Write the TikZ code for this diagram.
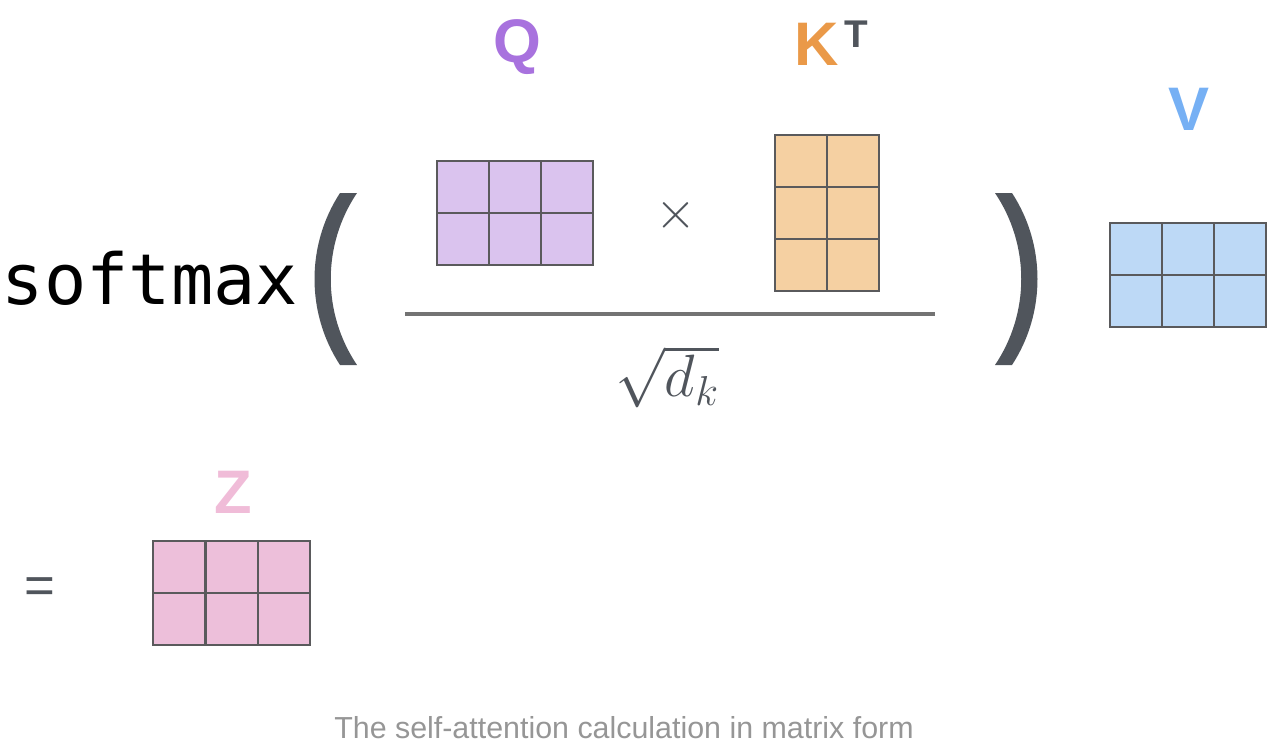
\RequirePackage{fix-cm}
\documentclass[tikz,border=0pt]{standalone}
\usepackage{fontspec}
\setmainfont{Liberation Sans}
\newfontfamily\codefont{DejaVu Sans Mono}
\usetikzlibrary{positioning}
\definecolor{qcolor}{RGB}{168,114,222}
\definecolor{kcolor}{RGB}{234,153,72}
\definecolor{vcolor}{RGB}{118,176,244}
\definecolor{zcolor}{RGB}{240,188,216}
\definecolor{qfill}{RGB}{218,195,238}
\definecolor{kfill}{RGB}{245,208,162}
\definecolor{vfill}{RGB}{189,217,246}
\definecolor{zfill}{RGB}{237,191,218}
\definecolor{gridline}{RGB}{90,90,92}
\definecolor{darkgray}{RGB}{80,85,92}
\definecolor{captiongray}{RGB}{150,150,150}
\tikzset{every node/.style={inner sep=0, outer sep=0},
	cell/.style={draw=gridline, line width=1.1pt, minimum size=1.04cm},
	letter/.style={font=\bfseries\fontsize{35}{42}\selectfont},
	supletter/.style={font=\bfseries\fontsize{22}{26}\selectfont, text=darkgray},
	paren/.style={fill=darkgray},
	fracbar/.style={draw=gray!90!black, line width=2.2pt}}

\begin{document}
\begin{tikzpicture}[x=0.02cm,y=-0.02cm]
		\useasboundingbox (0,0) rectangle (1276,754);
		\node[anchor=base west, font=\codefont\fontsize{40}{48}\selectfont] (smax) at (2,304) {softmax};
		% brackets
		\fill[paren] (340,193) .. controls (306,245) and (306,313) .. (340,365) -- (357,365) .. controls (322,313) and (322,245) .. (357,193) -- cycle;
		\fill[paren] (1012,193) .. controls (1046,245) and (1046,313) .. (1012,365) -- (995,365) .. controls (1030,313) and (1030,245) .. (995,193) -- cycle;
		% Q
		\foreach \c in {0,1,2}
			\foreach \r in {0,1}
				\node[cell, fill=qfill] (q\c\r) at (463+52*\c,187+52*\r) {};
		\node[letter, text=qcolor, anchor=base] (qlab) at (517,62) {Q};
		\node[font=\fontsize{30}{36}\selectfont, text=darkgray] (times) at (676,215) {$\times$};
		% K transposed
		\foreach \c in {0,1}
			\foreach \r in {0,1,2}
				\node[cell, fill=kfill] (k\c\r) at (801+52*\c,161+52*\r) {};
		\node[letter, text=kcolor, anchor=base] (klab) at (817,65) {K};
		\node[supletter, right=3pt of klab.north east, anchor=north west, yshift=1pt] (ksup) {T};
		% fraction
		\coordinate (barl) at (405,314);
		\coordinate (barr) at (935,314);
		\draw[fracbar] (barl) -- (barr);
		\node[font=\fontsize{34}{40}\selectfont, text=darkgray] (sqrtdk) at (667,377) {$\sqrt{d_k}$};
		% V
		\foreach \c in {0,1,2}
			\foreach \r in {0,1}
				\node[cell, fill=vfill] (v\c\r) at (1136+52*\c,249+52*\r) {};
		\node[letter, text=vcolor, anchor=base] (vlab) at (1189,130) {V};
		% Z
		\node[font=\fontsize{30}{36}\selectfont, text=darkgray] (eq) at (40,591) {=};
		\foreach \c in {0,1,2}
			\foreach \r in {0,1}
				\node[cell, fill=zfill] (z\c\r) at (179+52.7*\c,567+52*\r) {};
		\node[letter, text=zcolor, anchor=base] (zlab) at (233,513) {Z};
		\node[font=\fontsize{17.3}{20}\selectfont, text=captiongray] (caption) at (624,728) {The self-attention calculation in matrix form};
	\end{tikzpicture}
\end{document}
